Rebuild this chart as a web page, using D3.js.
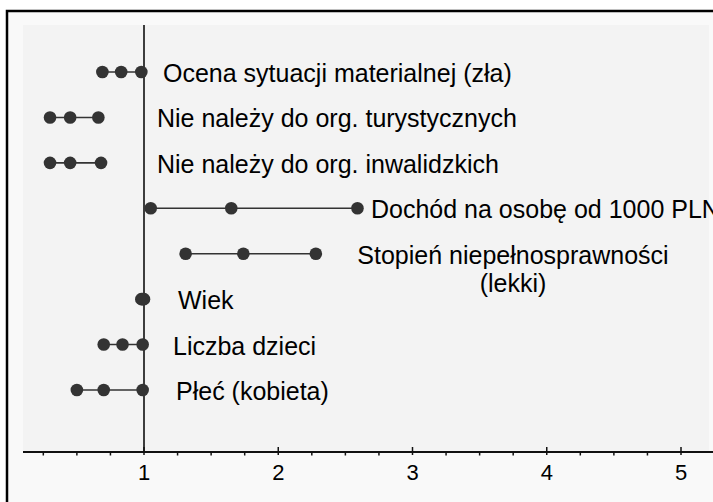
<!DOCTYPE html>
<html>
<head>
<meta charset="utf-8">
<script src="https://cdn.jsdelivr.net/npm/d3@7/dist/d3.min.js"></script>
<style>
  html, body { margin: 0; padding: 0; background: #ffffff; }
  svg { display: block; }
  text { font-family: "Liberation Sans", Arial, sans-serif; fill: #000; }
</style>
</head>
<body>
<svg id="chart" width="713" height="502"></svg>
<script>
// ---- data ----
const categories = [
  "Ocena sytuacji materialnej (zła)",
  "Nie należy do org. turystycznych",
  "Nie należy do org. inwalidzkich",
  "Dochód na osobę od 1000 PLN",
  "Stopień niepełnosprawności (lekki)",
  "Wiek",
  "Liczba dzieci",
  "Płeć (kobieta)"
];
const labelLines = [
  ["Ocena sytuacji materialnej (zła)"],
  ["Nie należy do org. turystycznych"],
  ["Nie należy do org. inwalidzkich"],
  ["Dochód na osobę od 1000 PLN"],
  ["Stopień niepełnosprawności", "(lekki)"],
  ["Wiek"],
  ["Liczba dzieci"],
  ["Płeć (kobieta)"]
];
const lowerCI  = [0.69, 0.30, 0.30, 1.05, 1.31, 0.98, 0.70, 0.50];
const estimate = [0.83, 0.45, 0.45, 1.65, 1.74, 0.99, 0.84, 0.70];
const upperCI  = [0.98, 0.66, 0.68, 2.59, 2.28, 1.00, 0.99, 0.99];
const majorTicks = [1, 2, 3, 4, 5];
const minorTicks = [0.25, 0.5, 0.75, 1.25, 1.5, 1.75, 2.25, 2.5, 2.75, 3.25, 3.5, 3.75, 4.25, 4.5, 4.75, 5.25];
const refValue = 1;

// ---- layout (pixels) ----
const labelX = [163, 157, 157, 371, 513, 178, 173, 176];
const labelAnchor = ["start", "start", "start", "start", "middle", "start", "start", "start"];
const labelDy = [10, 10, 10, 10, 10, 10, 10, 10];

const svg = d3.select("#chart");

// frame
svg.append("rect").attr("x", 7).attr("y", 11).attr("width", 720).attr("height", 500)
  .attr("fill", "#f9f9f9").attr("stroke", "#000").attr("stroke-width", 2.5);
// plot panel
const panel = {x0: 23, y0: 25, x1: 709, y1: 452};
svg.append("rect").attr("x", panel.x0).attr("y", panel.y0)
  .attr("width", panel.x1 - panel.x0).attr("height", panel.y1 - panel.y0)
  .attr("fill", "#f3f3f3");

const x = d3.scaleLinear().domain([1, 5]).range([144, 681]);
const y = d3.scalePoint().domain(categories).range([72, 390]);

// reference line
svg.append("line").attr("x1", x(refValue)).attr("x2", x(refValue))
  .attr("y1", panel.y0).attr("y2", panel.y1)
  .attr("stroke", "#000").attr("stroke-width", 1.5);

// axis
const axisG = svg.append("g");
axisG.append("line").attr("x1", panel.x0).attr("x2", 713)
  .attr("y1", panel.y1).attr("y2", panel.y1)
  .attr("stroke", "#111").attr("stroke-width", 2);
axisG.selectAll("line.minor").data(minorTicks).join("line").attr("class", "minor")
  .attr("x1", d => x(d)).attr("x2", d => x(d))
  .attr("y1", panel.y1).attr("y2", panel.y1 + 3.5)
  .attr("stroke", "#111").attr("stroke-width", 1.5);
axisG.selectAll("line.major").data(majorTicks).join("line").attr("class", "major")
  .attr("x1", d => x(d)).attr("x2", d => x(d))
  .attr("y1", panel.y1 - 5).attr("y2", panel.y1 + 3)
  .attr("stroke", "#111").attr("stroke-width", 1.5);
axisG.selectAll("text").data(majorTicks).join("text")
  .attr("x", d => x(d)).attr("y", 480)
  .attr("text-anchor", "middle").attr("font-size", 22)
  .text(d => d);

// series
const rows = categories.map((c, i) => ({c, i, lo: lowerCI[i], est: estimate[i], hi: upperCI[i]}));
const g = svg.append("g");
g.selectAll("line.ci").data(rows).join("line").attr("class", "ci")
  .attr("x1", d => x(d.lo)).attr("x2", d => x(d.hi))
  .attr("y1", d => y(d.c)).attr("y2", d => y(d.c))
  .attr("stroke", "#333").attr("stroke-width", 1.6);
const pts = [];
rows.forEach(d => { [d.lo, d.est, d.hi].forEach(v => pts.push({c: d.c, v})); });
g.selectAll("circle").data(pts).join("circle")
  .attr("cx", d => x(d.v)).attr("cy", d => y(d.c)).attr("r", 6.3)
  .attr("fill", "#333");

// labels
const lab = svg.append("g");
rows.forEach(d => {
  const t = lab.append("text")
    .attr("x", labelX[d.i]).attr("y", y(d.c) + labelDy[d.i])
    .attr("text-anchor", labelAnchor[d.i]).attr("font-size", 25);
  labelLines[d.i].forEach((ln, k) => {
    t.append("tspan").attr("x", labelX[d.i]).attr("dy", k === 0 ? 0 : 28).text(ln);
  });
});
</script>
</body>
</html>
